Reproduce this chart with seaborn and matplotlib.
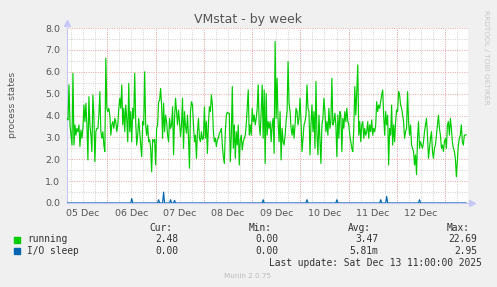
import numpy as np
import pandas as pd
import matplotlib
matplotlib.use("Agg")
import matplotlib.pyplot as plt
import matplotlib.dates as mdates
from matplotlib.patches import Rectangle
import seaborn as sns

# ---------------- data ----------------
title = "VMstat - by week"
y_label = "process states"
series_names = ["running", "I/O sleep"]
series_colors = ["#00CC00", "#0066B3"]
start_time = "2025-12-05 04:00"
end_time = "2025-12-13 10:30"

running = [
    3.87, 3.8, 5.4, 3.57, 3.1, 2.65, 5.93, 2.65, 3.57, 3.1, 3.41, 3.26, 3.57, 2.58, 3.34, 2.96,
    3.41, 4.48, 3.72, 4.56, 3.57, 1.97, 4.86, 3.57, 3.1, 2.35, 4.94, 4.02, 1.89, 3.26, 3.41, 3.41,
    4.02, 5.09, 3.26, 2.96, 3.26, 2.65, 2.35, 6.62, 4.33, 4.18, 4.33, 4.02, 3.1, 3.57, 3.72, 3.41,
    3.87, 3.72, 3.26, 3.57, 4.33, 4.79, 4.33, 5.4, 3.57, 4.33, 3.26, 4.48, 3.87, 2.8, 5.47, 3.26,
    4.18, 2.8, 4.33, 3.87, 5.93, 3.72, 2.65, 3.1, 3.87, 3.26, 2.65, 2.12, 3.72, 3.57, 6.0, 3.57,
    3.1, 3.57,
    2.8, 2.9, 2.5, 1.43, 2.9, 2.8, 2.9, 1.74, 3.41, 3.57, 4.63, 4.7, 5.24, 4.48, 2.96, 4.56,
    3.26, 4.02, 3.72, 3.1, 2.8, 3.87, 3.41, 3.57, 4.4, 2.2, 3.87, 4.79, 4.18, 3.57, 4.25, 3.72,
    3.03, 3.57, 4.79, 2.5, 4.18, 3.49, 3.19, 4.02, 2.96, 1.59, 4.18, 4.63, 4.48, 3.57, 2.8, 3.1,
    2.04, 3.26, 3.87, 2.96, 2.8, 3.26, 2.9, 2.96, 4.4, 2.96, 3.72, 2.27, 3.57, 4.4, 4.18, 4.94,
    4.48, 3.26, 2.8, 2.96, 2.58, 2.9, 2.96, 3.19, 3.26, 3.41, 2.65, 2.12, 1.81, 3.26, 4.02, 4.15,
    4.1,
    4.1, 1.89, 3.1, 5.32, 2.5, 3.57, 2.04, 3.26, 2.65, 3.57, 1.74, 2.9, 3.1, 2.42, 2.8, 2.96,
    3.1, 3.57, 4.33, 5.17, 3.1, 3.57, 3.1, 4.33, 3.72, 4.02, 3.57, 3.87, 4.33, 5.4, 3.57, 3.1,
    4.18, 5.4, 2.96, 5.17, 1.81, 5.01, 3.1, 3.72, 3.41, 3.72, 2.8, 3.57, 3.87, 2.27, 7.38, 3.87,
    5.7, 3.72, 2.8, 4.18, 1.97, 3.41, 2.8, 2.65, 3.1, 3.72, 4.18, 6.46, 4.56, 4.18, 3.41, 3.1,
    3.57, 2.96, 3.57, 4.33, 4.18, 3.57, 3.87, 4.79, 3.72, 2.35, 2.96, 3.57, 3.72, 4.02, 5.4, 4.33,
    4.18,
    2.2, 3.57, 4.48, 3.26, 4.18, 2.5, 5.55, 3.1, 2.2, 4.02, 2.96, 1.81, 3.57, 3.87, 4.79, 4.18,
    3.26, 3.72, 3.1, 4.33, 3.41, 3.72, 5.7, 3.57, 3.72, 4.1, 3.57, 2.12, 4.02, 2.96, 4.18, 4.02,
    2.35, 3.87, 3.41, 4.18, 3.72, 4.33, 3.72, 3.57, 3.1, 2.8, 2.5, 2.35, 3.41, 5.32, 4.02, 5.09,
    6.31, 3.1, 3.72, 2.8, 3.57, 3.72, 2.96, 3.41, 3.1, 3.26, 3.72, 2.96, 3.57, 3.26, 3.8, 3.1,
    3.41, 3.26, 3.57, 4.63, 4.18, 4.48, 4.33, 4.63, 4.94, 5.17, 4.02, 3.1, 4.18, 3.57, 4.02, 1.74,
    3.41,
    3.1, 4.48, 2.65, 3.57, 2.8, 3.72, 4.25, 4.18, 5.09, 4.94, 4.48, 4.33, 4.02, 3.72, 2.96, 3.26,
    3.41, 5.09, 3.72, 3.1, 3.57, 2.65, 2.5, 2.35, 1.74, 2.2, 1.3, 2.96, 3.72, 2.5, 2.8, 2.65,
    2.5, 2.8, 3.26, 3.57, 3.87, 3.1, 2.04, 2.5, 2.96, 3.26, 2.35, 2.04, 2.5, 2.65, 3.1, 3.57,
    4.02, 3.41, 3.1, 2.5, 2.65, 2.35, 2.8, 2.96, 2.5, 3.57, 3.72, 3.1, 3.87, 3.41, 2.8, 2.5,
    2.35, 2.04, 1.2, 1.89, 2.65, 2.96, 3.1, 3.57, 2.8, 2.65, 3.1, 3.1, 3.13,
]

# I/O sleep is zero except for a few short spikes
io_spike_times = ["2025-12-06 12:25", "2025-12-07 01:20", "2025-12-07 03:50",
                  "2025-12-07 07:18", "2025-12-07 09:17", "2025-12-09 05:31",
                  "2025-12-10 03:22", "2025-12-10 18:17", "2025-12-11 16:09",
                  "2025-12-11 19:08", "2025-12-12 11:02"]
io_spike_values = [0.2, 0.15, 0.5, 0.15, 0.12, 0.15, 0.15, 0.15, 0.15, 0.3, 0.15]

legend_headers = ["Cur:", "Min:", "Avg:", "Max:"]
running_stats = ["2.48", "0.00", "3.47", "22.69"]
io_stats = ["0.00", "0.00", "5.81m", "2.95"]
last_update = "Last update: Sat Dec 13 11:00:00 2025"
footer = "Munin 2.0.75"
side_text = "RRDTOOL / TOBI OETIKER"
x_tick_format = "%d %b"

# ---------------- build table ----------------
times = pd.date_range(start_time, end_time, periods=len(running))
io_sleep = np.zeros(len(running))
for t, v in zip(io_spike_times, io_spike_values):
    idx = int(np.argmin(np.abs((times - pd.Timestamp(t)).total_seconds())))
    io_sleep[idx] = v
df = pd.DataFrame({"time": times, "running": running, "io": io_sleep})

# ---------------- figure ----------------
sns.set_style("white")
plt.rcParams["font.family"] = ["DejaVu Sans"]
W, H = 497, 287
fig = plt.figure(figsize=(W / 100, H / 100), dpi=100, facecolor="#F0F0F0")
ax = fig.add_axes([67 / W, (H - 203) / H, 401 / W, 175 / H])
ax.set_facecolor("white")

grey = "#CFCFCF"
red = "#EFA3A3"
dots = (0, (1.0, 1.4))

ax.set_ylim(0, 8)
ax.set_xlim(pd.Timestamp("2025-12-05 04:00"), pd.Timestamp("2025-12-13 11:20"))
ax.yaxis.set_major_locator(matplotlib.ticker.MultipleLocator(1))
ax.yaxis.set_minor_locator(matplotlib.ticker.MultipleLocator(0.5))
ax.yaxis.set_major_formatter(matplotlib.ticker.FormatStrFormatter("%.1f"))
ax.xaxis.set_major_locator(mdates.HourLocator(byhour=[12]))
ax.xaxis.set_minor_locator(mdates.HourLocator(byhour=[0, 6, 18]))
ax.xaxis.set_major_formatter(mdates.DateFormatter(x_tick_format))

ax.grid(False)
ax.yaxis.grid(True, which="minor", color=grey, lw=0.7, linestyle=dots)
ax.yaxis.grid(True, which="major", color=red, lw=0.7, linestyle=dots)
ax.xaxis.grid(True, which="both", color=grey, lw=0.7, linestyle=dots)
midnights = pd.date_range("2025-12-06", "2025-12-13", freq="D")
ax.vlines(midnights, 0, 8, colors=red, lw=0.7, linestyles=dots, zorder=0.9)
ax.set_axisbelow(True)

sns.lineplot(data=df, x="time", y="running", ax=ax, color=series_colors[0], lw=0.85, zorder=3)
sns.lineplot(data=df, x="time", y="io", ax=ax, color=series_colors[1], lw=0.85, zorder=4)

for s in ["top", "right"]:
    ax.spines[s].set_visible(False)
for s in ["left", "bottom"]:
    ax.spines[s].set_color("#C8C8F8")
    ax.spines[s].set_linewidth(0.8)
ax.plot([0], [1.03], marker="^", color="#C8C8F8", ms=4, transform=ax.transAxes, clip_on=False)
ax.plot([1.01], [0], marker=">", color="#C8C8F8", ms=4, transform=ax.transAxes, clip_on=False)

ax.tick_params(axis="both", which="both", length=0, labelsize=6.8, labelcolor="#555555")
ax.tick_params(axis="x", pad=4.5)
ax.tick_params(axis="y", pad=5)
ax.set_xlabel("")
ax.set_ylabel(y_label, fontsize=6.6, color="#555555")
ax.yaxis.set_label_coords(-0.125, 0.56)

fig.text(0.5, 1 - 19 / H, title, ha="center", va="center", fontsize=9, color="#555555")
fig.text(486 / W, 1 - 57 / H, side_text, rotation=270, ha="center", va="center",
         fontsize=5.3, color="#C8C8C8")

mono = "DejaVu Sans Mono"
tc = "#333333"
fs = 6.9
hdr_x = [172, 272, 371, 470]
val_x = [178, 278, 378, 477]
for x, h in zip(hdr_x, legend_headers):
    fig.text(x / W, 1 - 228 / H, h, ha="right", va="center", family=mono, fontsize=fs, color=tc)
rows = [(239.5, series_names[0], running_stats, series_colors[0]),
        (251, series_names[1], io_stats, series_colors[1])]
for y, name, stats, col in rows:
    fig.patches.append(Rectangle((14 / W, 1 - (y + 3) / H), 6 / W, 6 / H,
                                 transform=fig.transFigure, color=col, figure=fig))
    fig.text(27 / W, 1 - y / H, name, ha="left", va="center", family=mono, fontsize=fs, color=tc)
    for x, v in zip(val_x, stats):
        fig.text(x / W, 1 - y / H, v, ha="right", va="center", family=mono, fontsize=fs, color=tc)
fig.text(482 / W, 1 - 263 / H, last_update, ha="right", va="center", family=mono,
         fontsize=fs, color=tc)
fig.text(248 / W, 1 - 276 / H, footer, ha="center", va="center", fontsize=5.2, color="#BBBBBB")

fig.savefig("out.png", dpi=100, facecolor=fig.get_facecolor())
